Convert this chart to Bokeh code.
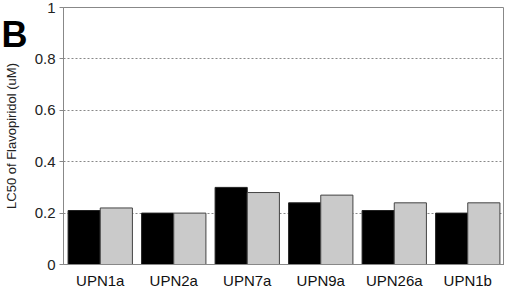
from bokeh.plotting import figure
from bokeh.models import ColumnDataSource, FixedTicker, FactorRange, LinearAxis
from bokeh.transform import dodge
from bokeh.embed import file_html
from bokeh.resources import INLINE

categories = ["UPN1a", "UPN2a", "UPN7a", "UPN9a", "UPN26a", "UPN1b"]
series_black = [0.21, 0.20, 0.30, 0.24, 0.21, 0.20]
series_gray = [0.22, 0.20, 0.28, 0.27, 0.24, 0.24]
ytick_values = [0, 0.2, 0.4, 0.6, 0.8, 1.0]
ytick_labels = ["0", "0.2", "0.4", "0.6", "0.8", "1"]
y_title = "LC50 of Flavopiridol (uM)"
panel_letter = "B"

FONT = "Liberation Sans"

src = ColumnDataSource(dict(cat=categories, black=series_black, gray=series_gray))

p = figure(x_range=FactorRange(*categories), y_range=(0, 1), width=504, height=291,
           output_backend="svg", toolbar_location=None,
           min_border_left=60, min_border_right=0, min_border_top=7, min_border_bottom=0)
p.x_range.range_padding = 0

bw = 0.4375
p.vbar(x=dodge("cat", -bw / 2, range=p.x_range), top="black", width=bw, source=src,
       fill_color="black", line_color="#222222", line_width=1)
p.vbar(x=dodge("cat", bw / 2, range=p.x_range), top="gray", width=bw, source=src,
       fill_color="#cacaca", line_color="#444444", line_width=1)

p.yaxis.ticker = FixedTicker(ticks=ytick_values)
p.yaxis.major_label_overrides = {v: l for v, l in zip(ytick_values, ytick_labels)}
p.yaxis.major_label_text_font = FONT
p.yaxis.major_label_text_font_size = "15px"
p.yaxis.major_label_text_color = "#222222"
p.yaxis.major_label_standoff = 4
p.yaxis.minor_tick_line_color = None
p.yaxis.major_tick_in = 0
p.yaxis.major_tick_out = 4
p.yaxis.major_tick_line_color = "#888888"

# outer left axis carrying the panel letter (as its single tick label) and the title
outer = LinearAxis(ticker=FixedTicker(ticks=[1.0], minor_ticks=[]),
                   major_label_overrides={1.0: panel_letter},
                   major_label_text_font=FONT, major_label_text_font_style="bold",
                   major_label_text_font_size="36px", major_label_text_color="black",
                   major_label_standoff=4,
                   axis_line_color=None, axis_line_alpha=0,
                   major_tick_line_color=None, minor_tick_line_color=None,
                   major_tick_in=0, major_tick_out=0, minor_tick_in=0, minor_tick_out=0,
                   axis_label=y_title, axis_label_text_font=FONT,
                   axis_label_text_font_style="normal", axis_label_text_font_size="13px",
                   axis_label_text_color="#222222", axis_label_standoff=-20)
p.add_layout(outer, "left")

p.xaxis.major_label_text_font = FONT
p.xaxis.major_label_text_font_size = "15px"
p.xaxis.major_label_text_color = "#111111"
p.xaxis.major_tick_line_color = None
p.xaxis.major_tick_in = 0
p.xaxis.major_tick_out = 0
p.xaxis.minor_tick_in = 0
p.xaxis.minor_tick_out = 0
p.xaxis.major_label_standoff = 7
p.xaxis.axis_label = None
p.xaxis.axis_label_standoff = 0

for ax in (p.xaxis, p.yaxis):
    ax.axis_line_color = "#888888"

p.xgrid.grid_line_color = None
p.ygrid.grid_line_color = "#888888"
p.ygrid.grid_line_dash = "2 2"
p.ygrid.grid_line_width = 1

p.outline_line_color = "#888888"
p.outline_line_alpha = 1
p.background_fill_color = "white"
p.border_fill_color = "white"

open("out.html", "w").write(file_html(p, INLINE))
